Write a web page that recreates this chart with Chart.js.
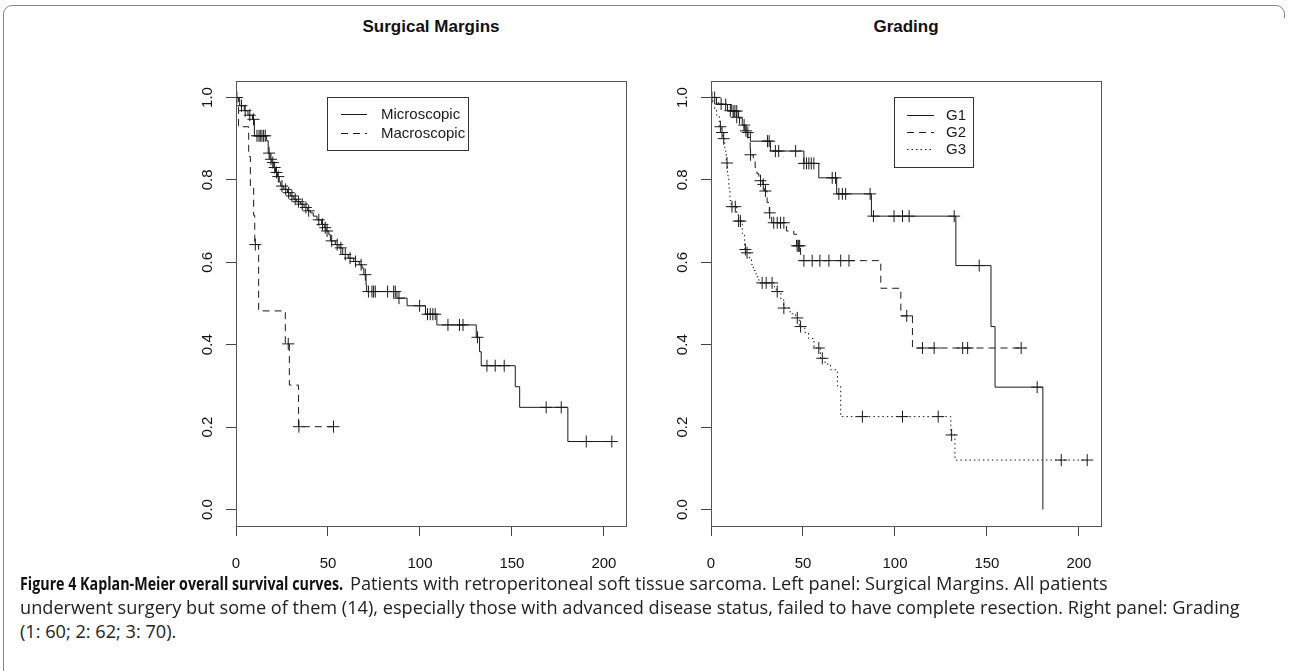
<!DOCTYPE html>
<html>
<head>
<meta charset="utf-8">
<script src="https://cdn.jsdelivr.net/npm/chart.js@4.4.1/dist/chart.umd.min.js"></script>
<style>
  body { margin:0; background:#fff; width:1290px; height:671px; overflow:hidden; position:relative; }
  #frame { position:absolute; left:3px; top:5px; width:1280px; height:720px; border:1px solid #888; border-radius:9px 9px 0 0; }
  #mask { position:absolute; left:1276px; top:18px; width:14px; height:700px; background:#fff; }
  .box { position:absolute; top:0; width:660px; height:575px; }
  #b1 { left:0; }
  #b2 { left:475px; }
  .ttl { position:absolute; top:17px; font:bold 17px "Liberation Sans", Arial, sans-serif; transform:translateX(-50%); white-space:nowrap; color:#111; }
  .cap { position:absolute; font-family:"Open Sans", sans-serif; font-size:16px; line-height:24px; color:#222; white-space:nowrap; }
  #capb { font-weight:bold; color:#111; transform-origin:0 50%; }
</style>
</head>
<body>
<div id="frame"></div>
<div id="mask"></div>
<div class="ttl" style="left:431px">Surgical Margins</div>
<div class="ttl" style="left:906px">Grading</div>
<div class="box" id="b1"><canvas id="c1" width="660" height="575"></canvas></div>
<div class="box" id="b2"><canvas id="c2" width="660" height="575"></canvas></div>
<div class="cap" id="capb" style="left:20px;top:571px">Figure 4 Kaplan-Meier overall survival curves.</div>
<div class="cap" id="cap1" style="left:350px;top:571px">Patients with retroperitoneal soft tissue sarcoma. Left panel: Surgical Margins. All patients</div>
<div class="cap" id="cap2" style="left:20px;top:595px">underwent surgery but some of them (14), especially those with advanced disease status, failed to have complete resection. Right panel: Grading</div>
<div class="cap" id="cap3" style="left:20px;top:619px">(1: 60; 2: 62; 3: 70).</div>

<script>
// axis ticks
const xTicks = [0, 50, 100, 150, 200];
const yTicks = [0, 0.2, 0.4, 0.6, 0.8, 1.0];

// Surgical margins: step times / survival, censored times
const microTime = [0, 2, 4.5, 6.5, 9, 10, 16.5, 17.5, 18.5, 19.5, 20.5, 21.5, 22.5, 23.5, 24.3,
  26, 28, 29.5, 31.5, 33, 35, 37, 39, 40.5, 42, 44, 46.5, 48, 49, 50.5, 51.3,
  54, 56, 58, 61, 64, 67, 68.5, 69.5, 70.7, 71, 87.5, 93, 103, 109.2, 130.6, 132.4, 133.3,
  151.8, 154.2, 180.4, 204.3];
const microSurv = [1, 0.98, 0.968, 0.957, 0.947, 0.907, 0.895, 0.865, 0.85, 0.842, 0.83, 0.818, 0.808, 0.795, 0.785,
  0.777, 0.769, 0.761, 0.753, 0.747, 0.741, 0.733, 0.725, 0.72, 0.712, 0.703, 0.692, 0.684, 0.676, 0.667, 0.652,
  0.643, 0.635, 0.619, 0.61, 0.602, 0.594, 0.586, 0.57, 0.545, 0.529, 0.513, 0.4945, 0.474, 0.448, 0.418, 0.383, 0.349,
  0.298, 0.248, 0.165, 0.165];
const microCens = [0.5, 3, 5, 7.5, 9.5, 11.4, 12.5, 13.2, 14.1, 15, 15.9, 18, 19, 20, 21, 22, 23, 25, 27, 28.6,
  30.4, 32.2, 34, 36, 38, 39.5, 45, 47, 48.5, 49.5, 52, 55, 57, 59.4, 62, 65, 68, 70.3, 72, 73.9, 74.8, 75.7,
  82.4, 85.7, 86.6, 88.6, 99.8, 104.1, 105.6, 107, 108.3, 115.2, 121.5, 123.4, 131.3, 136.4, 140.9, 145.8,
  168.6, 176.8, 190.4, 204.3];

const macroTime = [0, 1.4, 6.9, 7.8, 9.6, 10.2, 12.3, 26.8, 29, 34, 53];
const macroSurv = [1, 0.929, 0.857, 0.786, 0.714, 0.643, 0.482, 0.402, 0.302, 0.201, 0.201];
const macroCens = [10.5, 28.4, 34.2, 53];

// Grading
const g1Time = [0, 3, 11, 15, 17, 19, 21.4, 32.3, 50.5, 58.6, 68.3, 87.2, 133.1, 152.2, 154.4, 180.4];
const g1Surv = [1, 0.983, 0.967, 0.95, 0.933, 0.915, 0.894, 0.87, 0.84, 0.805, 0.766, 0.712, 0.592, 0.444, 0.297, 0];
const g1Cens = [0.5, 2, 8, 12, 13, 14, 18, 20, 30.7, 31.6, 35, 36.8, 46, 50.5, 51.9, 53.2, 54.5, 55.9,
  65.9, 67.7, 69.5, 71.4, 73.2, 86.5, 88.3, 99.5, 104.1, 107.7, 132.2, 145.8, 177.3];

const g2Time = [0, 4, 9, 12.5, 15.5, 18, 20, 21.3, 23, 24, 25, 26, 28.2, 29, 30.5, 31.7, 33, 41, 45, 46.5, 48.7,
  92.3, 103.2, 109.5, 171];
const g2Surv = [1, 0.984, 0.968, 0.952, 0.935, 0.919, 0.903, 0.861, 0.845, 0.83, 0.815, 0.798, 0.789, 0.773, 0.745,
  0.72, 0.696, 0.676, 0.668, 0.64, 0.604, 0.537, 0.47, 0.392, 0.392];
const g2Cens = [5.5, 10.5, 14, 19, 21.5, 26.9, 28.4, 29.6, 31.9, 34.1, 36, 37.8, 39.6, 46.8, 47.5, 48.2,
  50.5, 55, 59.2, 64.1, 70.5, 75, 106.4, 115, 121.3, 136.8, 139.5, 168.6];

const g3Time = [0, 1, 2, 3, 4.5, 5.5, 6.5, 7.5, 8.3, 9, 9.7, 10.3, 11, 14, 14.8, 17, 18.3, 19, 21, 22,
  23, 24.5, 26, 34.5, 35.5, 38, 39.5, 43, 46, 48, 51, 53, 56, 59.5, 62, 65, 68.7, 70.5, 130.4, 132.6, 204.5];
const g3Surv = [1, 0.986, 0.971, 0.957, 0.929, 0.915, 0.9, 0.87, 0.841, 0.81, 0.78, 0.75, 0.735, 0.72, 0.7, 0.67, 0.631, 0.623, 0.61, 0.595,
  0.58, 0.565, 0.55, 0.54, 0.529, 0.51, 0.489, 0.475, 0.465, 0.444, 0.43, 0.415, 0.392, 0.367, 0.353, 0.339, 0.3, 0.2255, 0.181, 0.12, 0.12];
const g3Cens = [5.1, 6, 6.9, 8.7, 11.4, 13.2, 15, 16, 18.7, 19.6, 27.8, 30, 33.2, 36, 39.6, 46.9, 48.7,
  58.6, 60.5, 82.3, 104.1, 123.5, 130.8, 190.4, 204.5];

const ink = '#1a1a1a';

// fit caption lines to the widths seen in the figure
(function fitCaption() {
  const m = document.createElement('canvas').getContext('2d');
  m.font = '16px "Open Sans"';
  const size = 16 * 1220 / m.measureText(document.getElementById('cap2').textContent).width;
  ['cap1', 'cap2', 'cap3', 'capb'].forEach(id => { document.getElementById(id).style.fontSize = size.toFixed(2) + 'px'; });
  m.font = 'bold ' + size.toFixed(2) + 'px "Open Sans"';
  const bw = m.measureText(document.getElementById('capb').textContent).width;
  document.getElementById('capb').style.transform = 'scaleX(' + (323 / bw).toFixed(3) + ')';
})();

function survAt(times, surv, t) {
  let v = surv[0];
  for (let i = 0; i < times.length; i++) { if (times[i] <= t) v = surv[i]; }
  return v;
}

function curve(label, times, surv, dash) {
  return {
    label: label,
    data: times.map((t, i) => ({ x: t, y: surv[i] })),
    showLine: true, stepped: true, borderColor: ink, borderWidth: 1,
    borderDash: dash, pointRadius: 0, fill: false
  };
}

function marks(times, surv, cens) {
  return {
    label: '', isCensor: true,
    data: cens.map(t => ({ x: t, y: survAt(times, surv, t) })),
    showLine: false, pointStyle: 'cross', pointRadius: 6, borderWidth: 1,
    borderColor: ink, backgroundColor: ink
  };
}

const kmLegend = {
  id: 'kmLegend',
  afterDraw(chart, args, o) {
    const ctx = chart.ctx;
    ctx.save();
    ctx.lineWidth = 1;
    ctx.strokeStyle = '#333';
    ctx.strokeRect(o.x + 0.5, o.y + 0.5, o.w, o.h);
    ctx.font = '15px "Liberation Sans", Arial, sans-serif';
    ctx.fillStyle = ink;
    ctx.textBaseline = 'middle';
    const items = chart.data.datasets.filter(d => !d.isCensor);
    items.forEach((d, i) => {
      const y = Math.round(o.y + o.first + i * o.step) + 0.5;
      ctx.strokeStyle = ink;
      ctx.setLineDash(d.borderDash || []);
      ctx.beginPath();
      ctx.moveTo(o.x + o.lineX, y);
      ctx.lineTo(o.x + o.lineX + o.lineW, y);
      ctx.stroke();
      ctx.setLineDash([]);
      ctx.fillText(d.label, o.x + o.textX, y);
    });
    ctx.restore();
  }
};

const plotBox = {
  id: 'plotBox',
  afterDraw(chart) {
    const a = chart.chartArea, ctx = chart.ctx;
    ctx.save();
    ctx.strokeStyle = '#555';
    ctx.lineWidth = 1;
    ctx.strokeRect(Math.round(a.left) + 0.5, Math.round(a.top) + 0.5, Math.round(a.right - a.left), Math.round(a.bottom - a.top));
    ctx.restore();
  }
};

function makeChart(id, datasets, legendOpts) {
  return new Chart(document.getElementById(id), {
    type: 'scatter',
    data: { datasets: datasets },
    options: {
      responsive: false, animation: false, devicePixelRatio: 1, events: [],
      layout: { padding: { left: 0, right: 34, top: 81, bottom: 0 } },
      plugins: { legend: { display: false }, tooltip: { enabled: false }, kmLegend: legendOpts },
      scales: {
        x: {
          type: 'linear', min: 0, max: 212,
          afterBuildTicks: s => { s.ticks = xTicks.map(v => ({ value: v })); },
          afterFit: s => { s.height = 49; },
          grid: { drawOnChartArea: false, drawTicks: true, tickLength: 10, color: '#444' },
          border: { display: true, color: '#555' },
          ticks: { color: '#111', padding: 19, maxRotation: 0, autoSkip: false,
            font: { size: 15, family: '"Liberation Sans", Arial, sans-serif' }, callback: v => String(v) }
        },
        y: {
          type: 'linear', min: -0.04, max: 1.04,
          afterBuildTicks: s => { s.ticks = yTicks.map(v => ({ value: v })); },
          afterFit: s => { s.width = 236; },
          grid: { drawOnChartArea: false, drawTicks: true, tickLength: 10, color: '#444' },
          border: { display: true, color: '#555' },
          ticks: { color: '#111', padding: 8, minRotation: 90, maxRotation: 90, crossAlign: 'center',
            font: { size: 15, family: '"Liberation Sans", Arial, sans-serif' }, callback: v => Number(v).toFixed(1) }
        }
      }
    },
    plugins: [plotBox, kmLegend]
  });
}

makeChart('c1', [
  curve('Microscopic', microTime, microSurv, []),
  curve('Macroscopic', macroTime, macroSurv, [7, 5]),
  marks(microTime, microSurv, microCens),
  marks(macroTime, macroSurv, macroCens)
], { x: 327, y: 97, w: 141, h: 53, first: 17, step: 19, lineX: 14, lineW: 26, textX: 54 });

makeChart('c2', [
  curve('G1', g1Time, g1Surv, []),
  curve('G2', g2Time, g2Surv, [7, 5]),
  curve('G3', g3Time, g3Surv, [1.5, 3]),
  marks(g1Time, g1Surv, g1Cens),
  marks(g2Time, g2Surv, g2Cens),
  marks(g3Time, g3Surv, g3Cens)
], { x: 419, y: 97, w: 79, h: 70, first: 18, step: 17, lineX: 13, lineW: 27, textX: 52 });
</script>
</body>
</html>
